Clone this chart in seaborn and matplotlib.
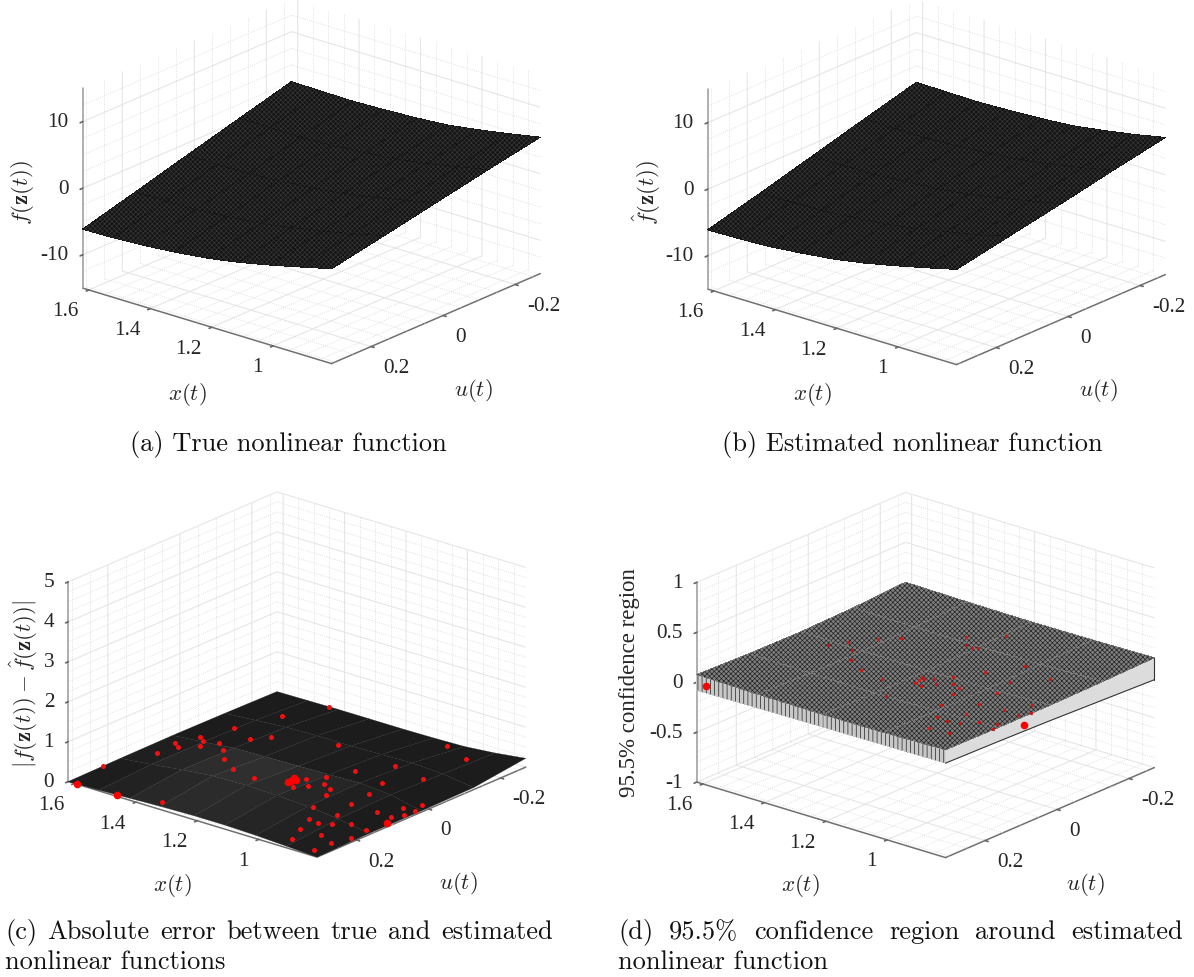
# plot.py
import numpy as np
import matplotlib
matplotlib.use("Agg")
import matplotlib.pyplot as plt
from mpl_toolkits.mplot3d import proj3d
import seaborn as sns

# ---- axis grids
x_lim = (0.81, 1.62)
u_lim = (-0.27, 0.31)
x_ticks = [1.0, 1.2, 1.4, 1.6]
x_tick_labels = ["1", "1.2", "1.4", "1.6"]
u_ticks = [-0.2, 0.0, 0.2]
u_tick_labels = ["-0.2", "0", "0.2"]
x_minor = [0.85, 0.9, 0.95, 1.05, 1.1, 1.15, 1.25, 1.3, 1.35, 1.45, 1.5, 1.55]
u_minor = [-0.25, -0.15, -0.1, -0.05, 0.05, 0.1, 0.15, 0.25, 0.3]

x_grid = [0.81, 0.91, 1.01, 1.11, 1.21, 1.32, 1.42, 1.52, 1.62]
u_grid = [-0.27, -0.125, 0.02, 0.165, 0.31]

# rows follow x_grid, columns follow u_grid
true_f = [
    [5.5, 4.0, 2.4, 0.8, -0.75],
    [4.6, 3.0, 1.35, -0.3, -1.9],
    [3.8, 2.1, 0.4, -1.3, -3.0],
    [3.1, 1.35, -0.45, -2.2, -4.0],
    [2.75, 0.9, -1.05, -2.95, -4.8],
    [2.5, 0.5, -1.45, -3.45, -5.4],
    [2.35, 0.25, -1.8, -3.8, -5.8],
    [2.4, 0.3, -1.85, -3.95, -6.05],
    [2.5, 0.35, -1.8, -4.0, -6.15],
]
est_f = [
    [5.6, 4.05, 2.4, 0.85, -0.7],
    [4.65, 3.0, 1.4, -0.3, -1.85],
    [3.85, 2.15, 0.45, -1.25, -2.95],
    [3.15, 1.4, -0.4, -2.2, -3.95],
    [2.8, 0.95, -1.0, -2.9, -4.75],
    [2.55, 0.55, -1.4, -3.4, -5.35],
    [2.4, 0.3, -1.75, -3.8, -5.8],
    [2.45, 0.35, -1.8, -3.95, -6.0],
    [2.55, 0.4, -1.8, -4.0, -6.1],
]
abs_err = [
    [0.22, 0.05, 0.03, 0.03, 0.0],
    [0.12, 0.16, 0.2, 0.16, 0.04],
    [0.05, 0.2, 0.26, 0.24, 0.08],
    [0.03, 0.18, 0.24, 0.28, 0.1],
    [0.02, 0.16, 0.22, 0.3, 0.1],
    [0.02, 0.16, 0.2, 0.28, 0.08],
    [0.02, 0.14, 0.18, 0.2, 0.05],
    [0.01, 0.08, 0.1, 0.1, 0.02],
    [0.0, 0.02, 0.03, 0.02, 0.0],
]
abs_err_grey = [
    ["#1c1c1c", "#1c1c1c", "#1c1c1c", "#1e1e1e"],
    ["#1c1c1c", "#1c1c1c", "#202020", "#222222"],
    ["#1c1c1c", "#1c1c1c", "#262626", "#252525"],
    ["#1c1c1c", "#1d1d1d", "#2b2b2b", "#292929"],
    ["#1c1c1c", "#1f1f1f", "#2f2f2f", "#2b2b2b"],
    ["#1c1c1c", "#1f1f1f", "#2d2d2d", "#282828"],
    ["#1c1c1c", "#1d1d1d", "#262626", "#222222"],
    ["#1c1c1c", "#1c1c1c", "#1f1f1f", "#1d1d1d"],
]

ci_x = [0.81, 1.01, 1.21, 1.42, 1.62]
ci_upper = [
    [0.10, 0.085, 0.075, 0.075, 0.08],
    [0.09, 0.07, 0.055, 0.055, 0.065],
    [0.085, 0.06, 0.045, 0.045, 0.06],
    [0.09, 0.06, 0.045, 0.05, 0.065],
    [0.10, 0.07, 0.055, 0.06, 0.077],
]
ci_lower_edge_x = [-0.12, -0.1, -0.08, -0.065, -0.054]  # x = 0.81 side, along u_grid
ci_lower_edge_u = [-0.054, -0.06, -0.065, -0.072, -0.08]  # u = 0.31 side, along ci_x

# training points on the error surface
err_x = [1.606, 1.558, 1.57, 1.545, 1.55, 1.507, 1.524, 1.484, 1.524, 1.446, 1.405, 1.341,
         1.444, 1.411, 1.482, 1.435, 1.264, 1.158, 1.149, 1.126, 1.132, 1.1, 1.07, 1.05,
         1.02, 0.978, 0.94, 0.947, 0.921, 0.882, 0.832, 0.828, 0.908, 0.939, 0.961, 0.876,
         0.81, 0.819, 0.97, 0.878, 0.998, 1.099, 1.047, 0.934, 0.829, 0.845, 0.812, 0.81,
         0.822, 0.941, 1.038, 1.249, 1.334]
err_u = [0.224, 0.115, 0.057, 0.068, 0.004, 0.041, 0.018, 0.006, -0.068, 0.028, 0.062, 0.09,
         -0.044, -0.075, -0.167, -0.256, 0.098, 0.044, 0.088, 0.066, 0.011, 0.042, 0.052, 0.081,
         0.142, 0.189, 0.196, 0.239, 0.285, 0.238, 0.301, 0.255, 0.184, 0.144, 0.087, 0.159,
         0.215, 0.167, 0.028, 0.086, -0.03, -0.043, -0.109, -0.09, 0.088, 0.041, 0.066, 0.037,
         0.009, -0.215, -0.245, -0.124, 0.293]
err_big_x = [1.59, 1.46, 1.181, 1.182, 1.187, 1.175, 0.81]
err_big_u = [0.31, 0.31, 0.075, 0.066, 0.052, 0.056, 0.116]
err_big_z = [0.0, 0.03, 0.1, 0.1, 0.1, 0.1, 0.1]
err_height = 0.1

ci_pts_x = [1.509, 1.482, 1.44, 1.4, 1.439, 1.398, 1.334, 1.255, 1.17, 1.28, 1.241, 1.217,
            1.208, 1.205, 1.089, 1.036, 0.935, 0.994, 1.175, 1.178, 1.188, 1.174, 1.149, 1.153,
            1.126, 1.128, 1.095, 1.068, 1.051, 1.025, 0.979, 0.942, 0.949, 0.911, 0.937, 0.96,
            0.877, 0.969, 0.881, 0.836, 0.832, 0.851, 0.82, 0.885, 0.82]
ci_pts_u = [0.041, 0.008, -0.04, -0.069, 0.034, 0.07, 0.098, 0.107, 0.169, -0.147, -0.116, -0.111,
            -0.119, -0.196, -0.037, -0.104, -0.086, -0.026, 0.083, 0.07, 0.054, 0.06, 0.089, 0.05,
            0.066, 0.018, 0.046, 0.053, 0.084, 0.139, 0.189, 0.194, 0.238, 0.184, 0.145, 0.09,
            0.16, 0.03, 0.086, 0.145, 0.089, 0.035, 0.064, 0.236, 0.169]
ci_height = 0.06
ci_big_x = [1.59, 0.81]
ci_big_u = [0.31, 0.092]
ci_big_z = [-0.01, -0.01]

W, H = 1194, 978
S = 500

sns.set_theme(style="white", rc={
    "grid.color": "#e6e6e6",
    "grid.linewidth": 0.8,
    "grid.linestyle": "-",
    "hatch.linewidth": 0.5,
})
plt.rcParams["font.family"] = ["Liberation Serif", "DejaVu Serif"]
plt.rcParams["mathtext.fontset"] = "cm"

fig = plt.figure(figsize=(W / 100, H / 100), dpi=100)


def tick_text(ax, x, u, z, text, dx, dy, ha):
    # mplot3d tick labels cannot be nudged, so hang them off the projected tick
    M = ax.get_proj()
    px, py, _ = proj3d.proj_transform(x, u, z, M)
    ax.annotate(text, (px, py), xytext=(dx, dy), textcoords="offset pixels",
                ha=ha, va="center", fontsize=15.3, color="#262626", annotation_clip=False)


def make_box(cx, cy, zlim, zticks, zticklabels, zminor):
    left = (cx - 0.5135 * S) / W
    bottom = (H - (cy + 0.5135 * S)) / H
    ax = fig.add_axes([left, bottom, S / W, S / H], projection="3d",
                      proj_type="ortho", computed_zorder=False)
    ax.set_box_aspect((326, 326, 215), zoom=0.984)
    ax.view_init(elev=21.2, azim=130)
    ax.patch.set_alpha(0)

    # dotted minor grid on the three back walls
    for v in x_minor:
        ax.plot([v, v], u_lim, [zlim[0], zlim[0]], ls=":", lw=0.6, color="#d8d8d8", zorder=1)
        ax.plot([v, v], [u_lim[0], u_lim[0]], zlim, ls=":", lw=0.6, color="#d8d8d8", zorder=1)
    for v in u_minor:
        ax.plot(x_lim, [v, v], [zlim[0], zlim[0]], ls=":", lw=0.6, color="#d8d8d8", zorder=1)
        ax.plot([x_lim[1], x_lim[1]], [v, v], zlim, ls=":", lw=0.6, color="#d8d8d8", zorder=1)
    for v in zminor:
        ax.plot(x_lim, [u_lim[0], u_lim[0]], [v, v], ls=":", lw=0.6, color="#d8d8d8", zorder=1)
        ax.plot([x_lim[1], x_lim[1]], u_lim, [v, v], ls=":", lw=0.6, color="#d8d8d8", zorder=1)

    ax.set_xlim(*x_lim)
    ax.set_ylim(*u_lim)
    ax.set_zlim(*zlim)
    ax.set_xticks(x_ticks, labels=[""] * len(x_ticks))
    ax.set_yticks(u_ticks, labels=[""] * len(u_ticks))
    ax.set_zticks(zticks, labels=[""] * len(zticks))
    ax.grid(True)
    ax.tick_params(axis="both", color="#666666")
    ax.zaxis.set_ticks_position("upper")
    for axis in (ax.xaxis, ax.yaxis, ax.zaxis):
        axis.set_pane_color((1, 1, 1, 1))
        axis.pane.set_edgecolor((1, 1, 1, 0))
        axis.line.set_color("#707070")
        axis.line.set_linewidth(1.1)
        axis._axinfo["tick"].update(inward_factor=0.15, outward_factor=0.0)
    ax.zaxis.line.set_color("#999999")

    for v, s in zip(x_ticks, x_tick_labels):
        tick_text(ax, v, u_lim[1], zlim[0], s, -10, -21, "right")
    for v, s in zip(u_ticks, u_tick_labels):
        tick_text(ax, x_lim[0], v, zlim[0], s, 12, -21, "left")
    for v, s in zip(zticks, zticklabels):
        tick_text(ax, x_lim[1], u_lim[1], v, s, -14, 0, "right")
    return ax


label_kw = dict(fontsize=16.5, color="#262626", ha="center", va="center")


def axis_labels(x_at, u_at, z_at, ztext):
    fig.text(x_at[0] / W, 1 - x_at[1] / H, r"$x(t)$", **label_kw)
    fig.text(u_at[0] / W, 1 - u_at[1] / H, r"$u(t)$", **label_kw)
    fig.text(z_at[0] / W, 1 - z_at[1] / H, ztext, rotation=90, **label_kw)


X, U = np.meshgrid(x_grid, u_grid, indexing="ij")
surf_kw = dict(color="#141414", edgecolor="#363636", linewidth=0, antialiased=False,
               shade=False, zorder=3, hatch="xxxxxxx")

# (a) true function
ax_a = make_box(311.5, 182, (-15, 15), [-10, 0, 10], ["-10", "0", "10"],
                [-12.5, -7.5, -5, -2.5, 2.5, 5, 7.5, 12.5])
ax_a.plot_surface(X, U, np.array(true_f), **surf_kw)
axis_labels((187, 394), (473, 391), (22, 193), r"$f(\mathbf{z}(t))$")

# (b) estimated function
ax_b = make_box(936.5, 183, (-15, 15), [-10, 0, 10], ["-10", "0", "10"],
                [-12.5, -7.5, -5, -2.5, 2.5, 5, 7.5, 12.5])
ax_b.plot_surface(X, U, np.array(est_f), **surf_kw)
axis_labels((812, 394), (1098, 391), (647, 193), r"$\hat{f}(\mathbf{z}(t))$")

# (c) absolute error
ax_c = make_box(297, 675.5, (0, 5), [0, 1, 2, 3, 4, 5], ["0", "1", "2", "3", "4", "5"],
                [0.25, 0.5, 0.75, 1.25, 1.5, 1.75, 2.25, 2.5, 2.75, 3.25, 3.5, 3.75, 4.25, 4.5, 4.75])
ax_c.plot_surface(X, U, np.array(abs_err), facecolors=abs_err_grey, linewidth=0.2,
                  shade=False, zorder=3)
ax_c.scatter(err_x, err_u, err_height, s=13, color="#f01010", depthshade=False, zorder=5, linewidths=0)
ax_c.scatter(err_big_x, err_big_u, err_big_z, s=30, color="#ff0000", depthshade=False, zorder=5, linewidths=0)
axis_labels((172, 886), (458, 884), (24, 684), r"$|f(\mathbf{z}(t))-\hat{f}(\mathbf{z}(t))|$")

# (d) confidence region
ax_d = make_box(925.5, 676, (-1, 1), [-1, -0.5, 0, 0.5, 1], ["-1", "-0.5", "0", "0.5", "1"],
                [-0.9, -0.8, -0.7, -0.6, -0.4, -0.3, -0.2, -0.1, 0.1, 0.2, 0.3, 0.4, 0.6, 0.7, 0.8, 0.9])
ci_upper = np.array(ci_upper)
# side walls between the lower and the upper surface
side_x = np.array([ci_x, ci_x])
side_u = np.full_like(side_x, u_lim[1])
side_z = np.array([ci_lower_edge_u, ci_upper[:, -1]])
ax_d.plot_surface(side_x, side_u, side_z, color="#c8c8c8", edgecolor="#202020", linewidth=0,
                  antialiased=False, shade=False, zorder=2, hatch="||||")
end_u = np.array([u_grid, u_grid])
end_x = np.full_like(end_u, x_lim[0])
end_z = np.array([ci_lower_edge_x, ci_upper[0, :]])
ax_d.plot_surface(end_x, end_u, end_z, color="#dcdcdc", edgecolor="#dcdcdc", linewidth=0.2,
                  shade=False, zorder=2)
ax_d.plot(end_x[0], end_u[0], end_z[0], color="#333333", lw=0.8, zorder=3)
ax_d.plot([x_lim[0], x_lim[0]], [u_lim[0], u_lim[0]], [ci_lower_edge_x[0], ci_upper[0, 0]],
          color="#333333", lw=0.8, zorder=3)
ci_X, ci_U = np.meshgrid(ci_x, u_grid, indexing="ij")
ax_d.plot_surface(ci_X, ci_U, ci_upper, color="#808080", edgecolor="#242424", linewidth=0,
                  antialiased=False, shade=False, zorder=3, hatch="xxxxxxx")
ax_d.scatter(ci_pts_x, ci_pts_u, ci_height, s=6, color="#c81818", depthshade=False, zorder=5, linewidths=0)
ax_d.scatter(ci_big_x, ci_big_u, ci_big_z, s=30, color="#ff0000", depthshade=False, zorder=5, linewidths=0)
axis_labels((800, 886), (1085, 885), (629, 683), "95.5% confidence region")

# captions, set in Computer Modern like the paper
cap_kw = dict(family="cmr10", fontsize=19, color="#111111", va="baseline")


def caption_line(words, x0, x1, y):
    # spread the words from x0 to x1 (justified line)
    texts = [fig.text(0, 1 - y / H, w, **cap_kw) for w in words]
    rend = fig.canvas.get_renderer()
    widths = [t.get_window_extent(rend).width for t in texts]
    gap = (x1 - x0 - sum(widths)) / (len(words) - 1)
    pos = x0
    for t, w in zip(texts, widths):
        t.set_x(pos / W)
        pos += w + gap


fig.text(288 / W, 1 - 451 / H, "(a) True nonlinear function", ha="center", **cap_kw)
fig.text(912 / W, 1 - 451 / H, "(b) Estimated nonlinear function", ha="center", **cap_kw)
caption_line(["(c)", "Absolute", "error", "between", "true", "and", "estimated"], 5, 553, 939)
fig.text(5 / W, 1 - 969 / H, "nonlinear functions", **cap_kw)
caption_line(["(d)", "95.5%", "confidence", "region", "around", "estimated"], 618, 1183, 939)
fig.text(618 / W, 1 - 969 / H, "nonlinear function", **cap_kw)

fig.savefig("out.png", dpi=100)
